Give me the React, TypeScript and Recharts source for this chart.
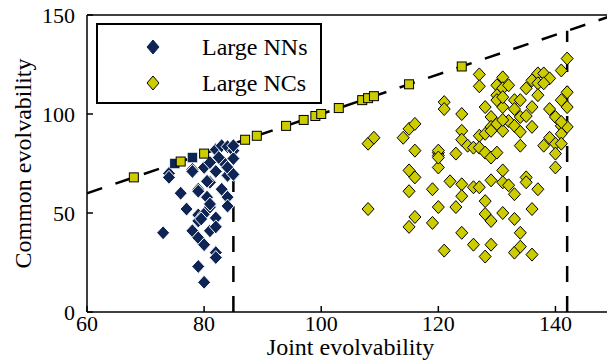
import React from "react";
import {
  ScatterChart,
  Scatter,
  XAxis,
  YAxis,
  ReferenceLine,
} from "recharts";

const NAVY = "#0d2454";
const YELLOW = "#cccc00";
const FONT = "Liberation Serif, Tinos, DejaVu Serif, Times New Roman, serif";

// Large NNs (diamonds)
const nnJoint = [
  73, 74, 74, 76, 77, 78, 78, 78, 79, 79, 79, 79, 79, 79, 80, 80, 80, 80, 80.5,
  81, 81, 81, 81, 81, 82, 82, 82, 82, 82, 82, 83, 83, 83, 84, 84, 84, 84, 84,
  85, 85, 85, 85, 82.5, 80.5, 79.5,
];
const nnCommon = [
  40, 70, 68, 60, 52, 72, 71, 41, 62, 61, 49, 46, 37.5, 23, 15, 34, 49.5, 73, 58,
  53, 65.5, 54.5, 41, 75.5, 82, 71, 47.5, 43, 30, 27.5, 62, 76.5, 84, 69, 58,
  53.5, 73, 83.5, 81.5, 77.5, 69.5, 84, 78, 66, 47,
];

// Large NNs on the diagonal (squares)
const nnSqJoint = [75, 78];
const nnSqCommon = [75, 78];

// Large NCs (diamonds)
const ncJoint = [
  108, 109, 108, 114, 115, 116, 116, 115, 116, 115, 116, 115, 119, 119, 120, 120,
  120, 120, 121, 121, 121, 122, 123, 123, 124, 124, 124, 124, 124, 124, 125, 126,
  126, 126, 127, 127, 127, 127, 127, 128, 128, 128, 128, 128, 128, 129, 129, 129,
  129, 129, 129, 130, 130, 130, 130, 130, 131, 131, 131, 131, 131, 131, 131, 132,
  132, 132, 133, 133, 133, 133, 133, 134, 134, 134, 134, 134, 135, 135, 135, 135,
  136, 136, 136, 136, 136, 137, 137, 137, 137, 138, 138, 139, 139, 139, 140, 140,
  140, 140, 141, 141, 141, 141, 141, 142, 142, 142, 142, 131, 138, 133, 131, 134,
  129, 141, 120, 120,
];
const ncCommon = [
  85, 88, 52, 88, 92.5, 95, 81.5, 71.5, 68, 61, 48, 43, 62, 45, 53, 73, 80.5, 79,
  106, 102.5, 31, 66, 80, 53, 100, 91.5, 87, 64.5, 58.5, 40, 84, 83, 63, 34, 120,
  114, 89, 83, 63, 103.5, 90, 80.5, 56, 49.5, 28, 98.5, 93.5, 78, 66.5, 46, 34,
  114.5, 109.5, 107, 95, 80.5, 118.5, 113, 103.5, 91.5, 71.5, 65.5, 50, 114.5,
  96.5, 64, 107, 94, 59.5, 47, 30, 107, 98.5, 84, 40, 33, 113, 99, 68, 65.5, 117,
  103.5, 93.5, 52, 29, 120.5, 115.5, 109.5, 62, 120.5, 84, 118, 102.5, 88, 98.5,
  85, 80, 73, 122, 107, 94, 90, 85, 128, 111, 103.5, 93.5, 108.5, 115.5, 102.5,
  97, 91, 91.5, 96, 81.5, 78,
];

// Large NCs on the diagonal (squares)
const ncSqJoint = [68, 76, 80, 87, 89, 94, 97, 99, 100, 103, 107, 108, 109, 115, 124];
const ncSqCommon = [68, 76, 80, 87, 89, 94, 97, 99, 100, 103, 107, 108, 109, 115, 124];

const xTicks = [60, 80, 100, 120, 140];
const yTicks = [0, 50, 100, 150];

const pairs = (xs: number[], ys: number[]) => xs.map((x, i) => ({ x, y: ys[i] }));

const nnData = pairs(nnJoint, nnCommon);
const nnSqData = pairs(nnSqJoint, nnSqCommon);
const ncData = pairs(ncJoint, ncCommon);
const ncSqData = pairs(ncSqJoint, ncSqCommon);

const diamond = (cx: number, cy: number, w: number, h: number) =>
  `M${cx},${cy - h} L${cx + w},${cy} L${cx},${cy + h} L${cx - w},${cy} Z`;

const NavyDiamond = (p: any) => (
  <path d={diamond(p.cx, p.cy, 6.5, 7)} fill={NAVY} stroke="#fff" strokeWidth={1} />
);
const YellowDiamond = (p: any) => (
  <path d={diamond(p.cx, p.cy, 6, 6.5)} fill={YELLOW} stroke="#000" strokeWidth={1} />
);
const NavySquare = (p: any) => (
  <rect x={p.cx - 5} y={p.cy - 5} width={10} height={10} fill={NAVY} stroke="#fff" strokeWidth={0.5} />
);
const YellowSquare = (p: any) => (
  <rect x={p.cx - 4.5} y={p.cy - 4.5} width={9} height={9} fill={YELLOW} stroke="#000" strokeWidth={1} />
);

const dash = { stroke: "#000", strokeWidth: 2.5, strokeDasharray: "16 14" };

function LegendBox() {
  const row = (color: string, edge: string, label: string) => (
    <div style={{ display: "flex", alignItems: "center", height: 36 }}>
      <svg width={104} height={20}>
        <path d={diamond(55, 10, 6, 7)} fill={color} stroke={edge} strokeWidth={1} />
      </svg>
      <span>{label}</span>
    </div>
  );
  return (
    <div
      style={{
        position: "absolute",
        left: 96,
        top: 23,
        width: 226,
        height: 81,
        boxSizing: "border-box",
        border: "2px solid #000",
        background: "#fff",
        fontFamily: FONT,
        fontSize: 24,
        color: "#000",
        paddingTop: 4,
      }}
    >
      {row(NAVY, NAVY, "Large NNs")}
      {row(YELLOW, "#000", "Large NCs")}
    </div>
  );
}

export default function App() {
  return (
    <div
      style={{
        position: "absolute",
        left: 0,
        top: 0,
        width: 607,
        height: 364,
        overflow: "hidden",
        background: "#fff",
        fontFamily: FONT,
      }}
    >
      <ScatterChart width={614} height={364} margin={{ top: 0, right: 0, bottom: 0, left: 0 }} style={{ fontFamily: FONT }}>
        <XAxis
          xAxisId="b"
          type="number"
          dataKey="x"
          domain={[60, 150]}
          ticks={xTicks}
          height={52}
          tickSize={-6}
          tickMargin={9}
          stroke="#000"
          strokeWidth={1.5}
          tick={{ fill: "#000", fontSize: 22, fontFamily: FONT }}
          label={{ value: "Joint evolvability", position: "insideBottom", offset: 9, fill: "#000", fontSize: 24, fontFamily: FONT }}
          allowDataOverflow
        />
        <XAxis
          xAxisId="t"
          orientation="top"
          type="number"
          dataKey="x"
          domain={[60, 150]}
          ticks={xTicks}
          height={15}
          tickSize={-6}
          stroke="#000"
          strokeWidth={1.5}
          tick={false}
          allowDataOverflow
        />
        <YAxis
          type="number"
          dataKey="y"
          domain={[0, 150]}
          ticks={yTicks}
          width={87}
          tickSize={-6}
          tickMargin={18}
          stroke="#000"
          strokeWidth={1.5}
          tick={{ fill: "#000", fontSize: 22, fontFamily: FONT }}
          label={{
            value: "Common evolvability",
            angle: -90,
            position: "insideLeft",
            offset: 22,
            fill: "#000",
            fontSize: 24,
            fontFamily: FONT,
            style: { textAnchor: "middle" },
          }}
          allowDataOverflow
        />
        <ReferenceLine xAxisId="b" segment={[{ x: 60, y: 60 }, { x: 150, y: 150 }]} {...dash} ifOverflow="hidden" />
        <ReferenceLine xAxisId="b" segment={[{ x: 85, y: 0 }, { x: 85, y: 85 }]} {...dash} ifOverflow="hidden" />
        <ReferenceLine xAxisId="b" segment={[{ x: 142, y: 0 }, { x: 142, y: 142 }]} {...dash} ifOverflow="hidden" />
        <Scatter xAxisId="b" data={nnData} shape={NavyDiamond} isAnimationActive={false} />
        <Scatter xAxisId="b" data={nnSqData} shape={NavySquare} isAnimationActive={false} />
        <Scatter xAxisId="b" data={ncData} shape={YellowDiamond} isAnimationActive={false} />
        <Scatter xAxisId="b" data={ncSqData} shape={YellowSquare} isAnimationActive={false} />
      </ScatterChart>
      <LegendBox />
    </div>
  );
}
